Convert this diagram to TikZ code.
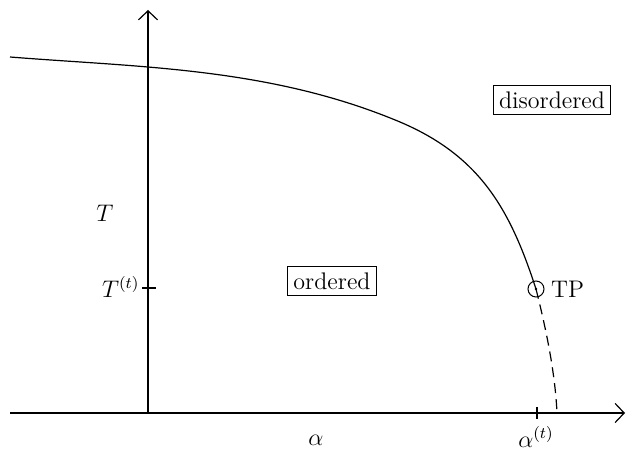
\documentclass[tikz,border=0pt]{standalone}
\usetikzlibrary{arrows.meta}
\begin{document}
\begin{tikzpicture}[x=0.5pt, y=-0.5pt, line width=0.6pt, every node/.style={inner sep=2pt, font=\large}, region/.style={draw, rectangle, inner sep=3pt, line width=0.45pt}]
    \useasboundingbox (0,0) rectangle (627,453);
    % axes
    \coordinate (origin) at (148,413);
    \coordinate (xend) at (625,413);
    \coordinate (yend) at (148,10);
    \coordinate (xstart) at (10,413);
    \draw[->, >={Straight Barb[length=4.5pt, width=9.5pt]}] (xstart) -- (xend);
    \draw[->, >={Straight Barb[length=4.5pt, width=9.5pt]}] (origin) -- (yend);
    % ticks
    \coordinate (Tt) at (148,288);
    \coordinate (at) at (537,413);
    \draw (142,288) -- (156,288);
    \draw (537,407) -- (537,419);
    \node[left, inner sep=1pt] (Ttlabel) at (142,287) {$T^{(t)}$};
    \node (Tlabel) at (105,213) {$T$};
    \node (alabel) at (316,440) {$\alpha$};
    \node (atlabel) at (536,437) {$\alpha^{(t)}$};
    % transition line
    \coordinate (TP) at (536,289);
    \coordinate (TPend) at (557,413);
    \coordinate (bend) at (400,122);
    \draw (10,57) .. controls (140,67.4) and (270,67.4) .. (bend)
        .. controls (480,156) and (510,209) .. (TP);
    \draw[dashed, dash pattern=on 5pt off 3pt] (TP) .. controls (545,325) and (555,370) .. (TPend);
    \node[draw, circle, minimum size=8pt, inner sep=0pt, line width=0.5pt] (TPmark) at (TP) {};
    \fill (TP) circle (0.7pt);
    \node[right, inner sep=3pt] (TPlabel) at (TPmark.east) {TP};
    % phases
    \node[region] (ordered) at (332,281) {ordered};
    \node[region] (disordered) at (552,100) {disordered};
\end{tikzpicture}
\end{document}
